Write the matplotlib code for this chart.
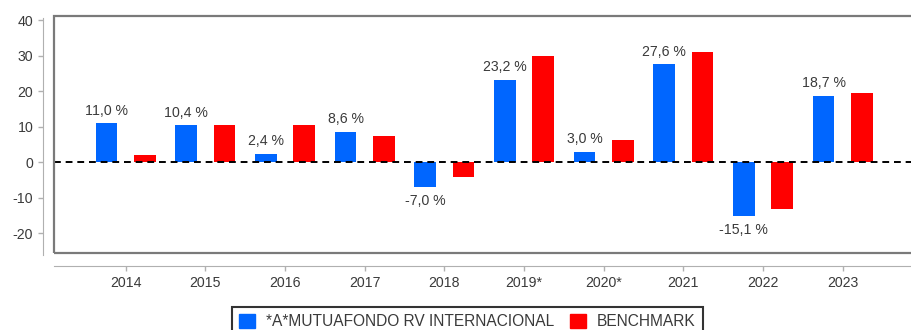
import matplotlib
matplotlib.use("Agg")
import matplotlib.pyplot as plt
from matplotlib.patches import Rectangle, Patch
import numpy as np

years = ["2014", "2015", "2016", "2017", "2018", "2019*", "2020*", "2021", "2022", "2023"]
fund_returns = [11.0, 10.4, 2.4, 8.6, -7.0, 23.2, 3.0, 27.6, -15.1, 18.7]
benchmark_returns = [2.1, 10.4, 10.6, 7.4, -4.2, 29.9, 6.2, 31.2, -13.2, 19.6]
fund_name = "*A*MUTUAFONDO RV INTERNACIONAL"
benchmark_name = "BENCHMARK"

BLUE = "#0066ff"
RED = "#ff0000"
TEXT = "#3a3a3a"
AXIS_GRAY = "#b0b0b0"

plt.rcParams["font.family"] = ["Liberation Sans", "DejaVu Sans"]
plt.rcParams["axes.unicode_minus"] = False

fig = plt.figure(figsize=(9.12, 3.30), dpi=100)
ax = fig.add_axes([54 / 912, 1 - 253 / 330, 862 / 912, 237 / 330])

x = np.arange(len(years))
width = 0.27
offset = 0.24
ax.bar(x - offset, fund_returns, width, color=BLUE, zorder=2)
ax.bar(x + offset, benchmark_returns, width, color=RED, zorder=2)

# zero line
ax.axhline(0, color="black", lw=1.4, ls=(0, (3.5, 2.5)), zorder=3)

# value labels on the fund bars
for xi, v in zip(x, fund_returns):
    label = f"{v:.1f} %".replace(".", ",")
    if v >= 0:
        ax.annotate(label, (xi - offset, v), xytext=(0, 4), textcoords="offset points",
                    ha="center", va="bottom", fontsize=10.2, color=TEXT)
    else:
        ax.annotate(label, (xi - offset, v), xytext=(0, -5), textcoords="offset points",
                    ha="center", va="top", fontsize=10.2, color=TEXT)

ax.set_xlim(-0.9, 9.92)
ax.set_ylim(-25.55, 41.2)
ax.set_yticks([-20, -10, 0, 10, 20, 30, 40])
ax.set_xticks(x)
ax.set_xticklabels(years)

# gray frame around the plotting area
ax.add_patch(Rectangle((0, 0), 1.05, 1, transform=ax.transAxes, fill=False,
                       edgecolor="#7a7a7a", lw=1.6, clip_on=False, zorder=4))

for side in ["top", "right"]:
    ax.spines[side].set_visible(False)
ax.spines["left"].set_position(("outward", 8))
ax.spines["bottom"].set_position(("outward", 9))
ax.spines["left"].set_bounds(-26.1, 40.6)
ax.spines["left"].set_color(AXIS_GRAY)
ax.spines["bottom"].set_color(AXIS_GRAY)
ax.tick_params(axis="both", colors=AXIS_GRAY, labelcolor=TEXT, labelsize=10.2,
               length=3.5, width=1)
ax.tick_params(axis="x", pad=4)

handles = [Patch(color=BLUE, label=fund_name), Patch(color=RED, label=benchmark_name)]
leg = fig.legend(handles=handles, loc="upper left", bbox_to_anchor=(232 / 912, 1 - 307 / 330),
                 ncol=2, fontsize=11.2, frameon=True, fancybox=False, borderpad=0.45,
                 handlelength=1.0, handleheight=1.0, handletextpad=0.75, columnspacing=1.0,
                 borderaxespad=0)
leg.get_frame().set_edgecolor("black")
leg.get_frame().set_linewidth(1.5)
for t in leg.get_texts():
    t.set_color(TEXT)

fig.savefig("out.png", dpi=100)
